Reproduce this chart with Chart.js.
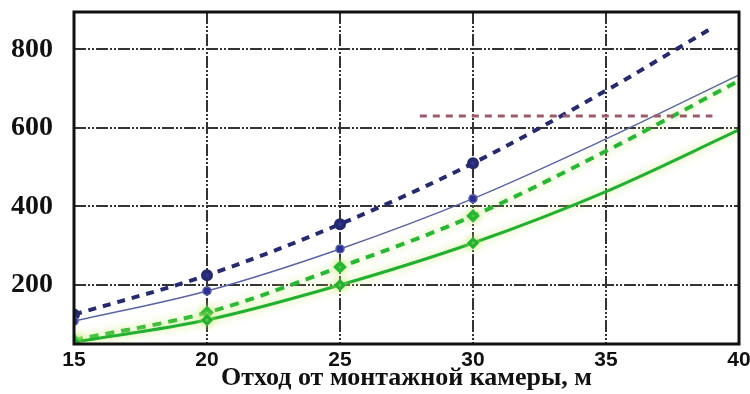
<!DOCTYPE html>
<html lang="ru">
<head>
    <meta charset="UTF-8">
    <title>Отход от монтажной камеры</title>
    <style>
        html, body {
            margin: 0;
            padding: 0;
            background-color: #ffffff;
        }
        .chart-container {
            width: 750px;
            height: 394px;
        }
    </style>
    <script src="https://cdn.jsdelivr.net/npm/chart.js"></script>
</head>
<body>
    <div class="chart-container">
        <canvas id="mainChart"></canvas>
    </div>

    <script>
        // data
        const xTicks = [15, 20, 25, 30, 35, 40];
        const yTicks = [200, 400, 600, 800];

        const navyDashX = [15, 20, 25, 30, 35, 39];
        const navyDashY = [125, 225, 355, 510, 695, 855];

        const blueSolidX = [15, 20, 25, 30, 35, 40];
        const blueSolidY = [108, 185, 292, 420, 572, 735];

        const greenDashX = [15, 20, 25, 30, 35, 40];
        const greenDashY = [60, 130, 246, 376, 541, 720];

        const greenSolidX = [15, 20, 25, 30, 35, 40];
        const greenSolidY = [55, 111, 200, 307, 438, 595];

        const limitX = [28, 39];
        const limitY = [630, 630];

        const xTitle = 'Отход от монтажной камеры, м';

        function toPoints(xs, ys) {
            return xs.map((x, i) => ({ x: x, y: ys[i] }));
        }

        // markers only on the computed points up to 30 m
        function markerRadius(ctx) {
            return ctx.raw && ctx.raw.x <= 30 ? 4 : 0;
        }

        const frame = {
            id: 'frame',
            afterDraw(chart) {
                const a = chart.chartArea;
                const ctx = chart.ctx;
                ctx.save();
                ctx.strokeStyle = '#111111';
                ctx.lineWidth = 3;
                ctx.strokeRect(a.left, a.top, a.right - a.left, a.bottom - a.top);
                ctx.restore();
            }
        };

        const glow = {
            id: 'glow',
            beforeDatasetDraw(chart, args) {
                const ds = chart.data.datasets[args.index];
                if (ds.glow) {
                    chart.ctx.save();
                    chart.ctx.shadowColor = 'rgba(200, 235, 120, 0.95)';
                    chart.ctx.shadowBlur = 8;
                }
            },
            afterDatasetDraw(chart, args) {
                const ds = chart.data.datasets[args.index];
                if (ds.glow) {
                    chart.ctx.restore();
                }
            }
        };

        const ctx = document.getElementById('mainChart').getContext('2d');
        new Chart(ctx, {
            type: 'line',
            data: {
                datasets: [
                    {
                        data: toPoints(limitX, limitY),
                        borderColor: '#9c5a6a',
                        borderWidth: 3,
                        borderDash: [7, 6],
                        pointRadius: 0
                    },
                    {
                        data: toPoints(greenSolidX, greenSolidY),
                        borderColor: '#21b02f',
                        backgroundColor: '#21b02f',
                        borderWidth: 3,
                        pointRadius: markerRadius,
                        pointStyle: 'rectRot',
                        cubicInterpolationMode: 'monotone',
                        glow: true
                    },
                    {
                        data: toPoints(greenDashX, greenDashY),
                        borderColor: '#27b833',
                        backgroundColor: '#27b833',
                        borderWidth: 4,
                        borderDash: [9, 7],
                        pointRadius: markerRadius,
                        pointStyle: 'rectRot',
                        cubicInterpolationMode: 'monotone',
                        glow: true
                    },
                    {
                        data: toPoints(blueSolidX, blueSolidY),
                        borderColor: '#5a64a4',
                        backgroundColor: '#2e2e9a',
                        borderWidth: 1.5,
                        pointRadius: markerRadius,
                        cubicInterpolationMode: 'monotone'
                    },
                    {
                        data: toPoints(navyDashX, navyDashY),
                        borderColor: '#262a6e',
                        backgroundColor: '#33339e',
                        borderWidth: 4,
                        borderDash: [8, 7],
                        pointRadius: markerRadius,
                        cubicInterpolationMode: 'monotone'
                    }
                ]
            },
            options: {
                responsive: true,
                maintainAspectRatio: false,
                animation: false,
                layout: {
                    padding: { top: 12, left: 0, right: 11, bottom: 0 }
                },
                plugins: {
                    legend: { display: false },
                    tooltip: { enabled: false }
                },
                scales: {
                    x: {
                        type: 'linear',
                        min: 15,
                        max: 40,
                        afterBuildTicks: (axis) => {
                            axis.ticks = xTicks.map(v => ({ value: v }));
                        },
                        afterFit: (axis) => {
                            axis.height = 50;
                            axis.paddingLeft = 0;
                            axis.paddingRight = 0;
                        },
                        grid: {
                            color: '#333333',
                            lineWidth: 2,
                            drawTicks: false
                        },
                        border: {
                            display: false,
                            dash: [12, 2, 2, 2, 2, 2]
                        },
                        ticks: {
                            padding: 4,
                            color: '#111111',
                            maxRotation: 0,
                            font: { family: 'Liberation Sans', size: 21, weight: 'bold' }
                        },
                        title: {
                            display: true,
                            text: xTitle,
                            color: '#111111',
                            padding: { top: 0, bottom: 0 },
                            font: { family: 'Liberation Serif', size: 26, weight: 'bold' }
                        }
                    },
                    y: {
                        type: 'linear',
                        min: 50,
                        max: 895,
                        afterBuildTicks: (axis) => {
                            axis.ticks = yTicks.map(v => ({ value: v }));
                        },
                        afterFit: (axis) => {
                            axis.width = 74;
                            axis.paddingTop = 0;
                            axis.paddingBottom = 0;
                        },
                        grid: {
                            color: '#333333',
                            lineWidth: 2,
                            drawTicks: false
                        },
                        border: {
                            display: false,
                            dash: [12, 2, 2, 2, 2, 2]
                        },
                        ticks: {
                            padding: 21,
                            color: '#111111',
                            font: { family: 'Liberation Serif', size: 28, weight: 'bold' }
                        }
                    }
                }
            },
            plugins: [glow, frame]
        });
    </script>
</body>
</html>
